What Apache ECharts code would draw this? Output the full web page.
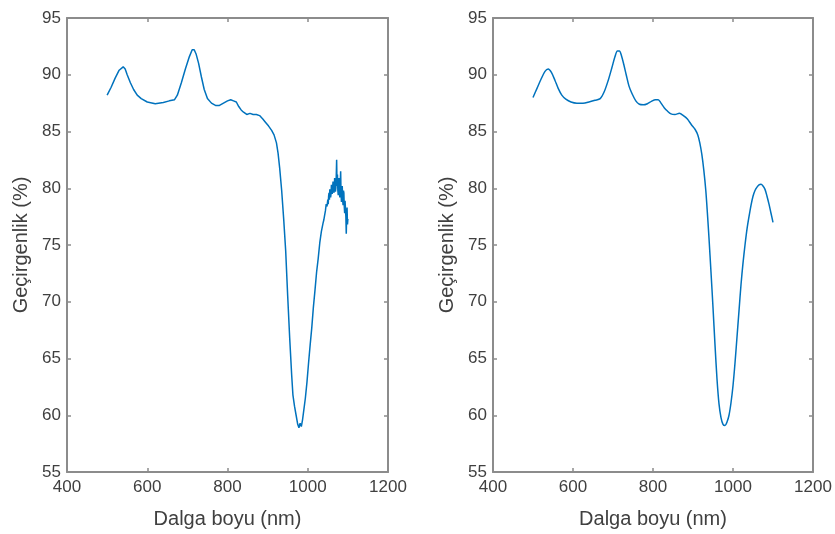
<!DOCTYPE html>
<html>
<head>
<meta charset="utf-8">
<script src="https://cdn.jsdelivr.net/npm/echarts@6/dist/echarts.min.js"></script>
<style>
  html, body { margin: 0; padding: 0; background: #fff; }
  #box { width: 835px; height: 534px; }
</style>
</head>
<body>
<div id="box"></div>
<script>
// ölçülen spektrum (gürültülü)
var measured = [
    [500, 88.2], [510, 88.9], [520, 89.7], [530, 90.4], [540, 90.7], [545, 90.5], [550, 90.0],
    [558, 89.3], [566, 88.7], [575, 88.2], [585, 87.9], [600, 87.6], [620, 87.45], [640, 87.55],
    [655, 87.7], [668, 87.8], [675, 88.2], [685, 89.3], [695, 90.5], [705, 91.6], [712, 92.2],
    [717, 92.2], [722, 91.8], [728, 91.0], [735, 89.8], [742, 88.7], [750, 87.9], [760, 87.5],
    [770, 87.3], [780, 87.3], [790, 87.5], [800, 87.7], [808, 87.8], [815, 87.7], [822, 87.6],
    [828, 87.2], [834, 86.9], [840, 86.7], [848, 86.5], [856, 86.6], [864, 86.5], [872, 86.5],
    [880, 86.4], [888, 86.1], [895, 85.8], [902, 85.5], [910, 85.1], [916, 84.7], [922, 84.0],
    [926, 83.1], [930, 81.8], [935, 79.8], [940, 77.3], [945, 74.5], [950, 70.5], [955, 66.8],
    [960, 63.5], [963, 61.8], [967, 60.8], [971, 60.0], [975, 59.2], [978, 58.9], [981, 59.3],
    [984, 59.0], [987, 59.6], [990, 60.4], [994, 61.5], [998, 62.9], [1002, 64.6], [1006, 66.2],
    [1010, 67.7], [1014, 69.5], [1018, 71.0], [1022, 72.6], [1026, 73.8], [1030, 75.2],
    [1034, 76.2], [1038, 76.9], [1040, 77.2], [1042, 77.6], [1044, 78.0], [1046, 78.6],
    [1048, 78.4], [1050, 79.0], [1051, 78.6], [1052, 79.3], [1053, 79.6], [1054, 79.0],
    [1055, 79.9], [1056, 79.7], [1057, 79.2], [1058, 79.5], [1059, 80.3], [1060, 80.1],
    [1061, 79.5], [1062, 79.6], [1063, 80.6], [1064, 80.4], [1065, 79.6], [1066, 79.9],
    [1067, 80.9], [1068, 80.8], [1069, 79.7], [1070, 80.0], [1071, 81.0], [1072, 82.5],
    [1073, 80.2], [1074, 81.2], [1075, 79.8], [1076, 79.4], [1077, 80.6], [1078, 80.9],
    [1079, 79.6], [1080, 79.2], [1081, 80.4], [1082, 81.5], [1083, 79.5], [1084, 78.8],
    [1085, 79.9], [1086, 80.2], [1087, 79.0], [1088, 78.5], [1089, 79.8], [1090, 79.6],
    [1091, 78.4], [1092, 77.8], [1093, 78.9], [1094, 79.0], [1095, 77.5], [1096, 76.0],
    [1097, 77.6], [1098, 78.3], [1099, 76.8], [1100, 77.3]
];

// düzeltilmiş spektrum
var smoothed = [
    [500, 88.0], [510, 88.8], [520, 89.6], [530, 90.3], [538, 90.5], [546, 90.2], [555, 89.5],
    [563, 88.8], [572, 88.2], [582, 87.85], [595, 87.6], [610, 87.5], [625, 87.5], [640, 87.6],
    [655, 87.75], [668, 87.9], [678, 88.5], [688, 89.5], [697, 90.6], [705, 91.6], [711, 92.1],
    [716, 92.1], [721, 91.7], [727, 90.9], [733, 90.0], [740, 89.0], [748, 88.3], [757, 87.7],
    [766, 87.4], [776, 87.35], [786, 87.45], [796, 87.65], [806, 87.8], [813, 87.8], [820, 87.5],
    [828, 87.1], [836, 86.8], [845, 86.55], [855, 86.5], [866, 86.6], [876, 86.4], [886, 86.1],
    [896, 85.6], [905, 85.2], [912, 84.7], [917, 84.0], [922, 83.0], [927, 81.6], [932, 79.8],
    [936, 77.8], [940, 75.6], [945, 72.6], [950, 69.5], [955, 66.2], [960, 63.2], [965, 61.0],
    [970, 59.8], [975, 59.2], [980, 59.1], [985, 59.4], [990, 60.0], [995, 61.1], [1000, 62.6],
    [1005, 64.6], [1010, 66.9], [1015, 69.2], [1020, 71.5], [1025, 73.4], [1030, 75.0],
    [1035, 76.4], [1040, 77.5], [1045, 78.5], [1050, 79.3], [1055, 79.8], [1060, 80.1],
    [1065, 80.3], [1070, 80.35], [1075, 80.2], [1080, 79.9], [1085, 79.3], [1090, 78.6],
    [1095, 77.8], [1100, 77.0]
];

var xRange = [400, 1200, 200];
var yRange = [55, 95, 5];
var xTitle = 'Dalga boyu (nm)';
var yTitle = 'Geçirgenlik (%)';

var font = "'Liberation Sans', Arial, sans-serif";
var frame = '#8c8c8c';
var textColor = '#404040';

function makeX(grid, pos) {
    var main = pos === 'bottom';
    return {
        type: 'value', gridIndex: grid, position: pos,
        min: xRange[0], max: xRange[1], interval: xRange[2],
        name: main ? xTitle : '', nameLocation: 'middle', nameGap: 37,
        nameTextStyle: { fontFamily: font, fontSize: 20, color: textColor },
        axisLine: { show: true, onZero: false, lineStyle: { color: frame, width: 2 } },
        axisTick: { show: true, inside: true, length: 4, lineStyle: { color: frame, width: 1.5 } },
        axisLabel: {
            show: main, margin: 7, fontFamily: font, fontSize: 17, color: textColor,
            formatter: function (v) { return String(v); }
        },
        splitLine: { show: false }
    };
}

function makeY(grid, pos) {
    var main = pos === 'left';
    return {
        type: 'value', gridIndex: grid, position: pos,
        min: yRange[0], max: yRange[1], interval: yRange[2],
        name: main ? yTitle : '', nameLocation: 'middle', nameGap: 36,
        nameTextStyle: { fontFamily: font, fontSize: 20, color: textColor },
        axisLine: { show: true, onZero: false, lineStyle: { color: frame, width: 2 } },
        axisTick: { show: true, inside: true, length: 4, lineStyle: { color: frame, width: 1.5 } },
        axisLabel: {
            show: main, margin: 6, fontFamily: font, fontSize: 17, color: textColor,
            formatter: function (v) { return String(v); }
        },
        splitLine: { show: false }
    };
}

var myChart = echarts.init(document.getElementById('box'));
var option = {
    animation: false,
    backgroundColor: '#fff',
    grid: [
        { left: 67, top: 18, width: 321, height: 459 },
        { left: 493, top: 18, width: 320, height: 459 }
    ],
    xAxis: [makeX(0, 'bottom'), makeX(0, 'top'), makeX(1, 'bottom'), makeX(1, 'top')],
    yAxis: [makeY(0, 'left'), makeY(0, 'right'), makeY(1, 'left'), makeY(1, 'right')],
    series: [
        {
            type: 'line', xAxisIndex: 0, yAxisIndex: 0, data: measured,
            showSymbol: false, lineStyle: { color: '#0072BD', width: 1.5 }
        },
        {
            type: 'line', xAxisIndex: 2, yAxisIndex: 2, data: smoothed, smooth: 0.3,
            showSymbol: false, lineStyle: { color: '#0072BD', width: 1.5 }
        }
    ]
};
myChart.setOption(option);
</script>
</body>
</html>
